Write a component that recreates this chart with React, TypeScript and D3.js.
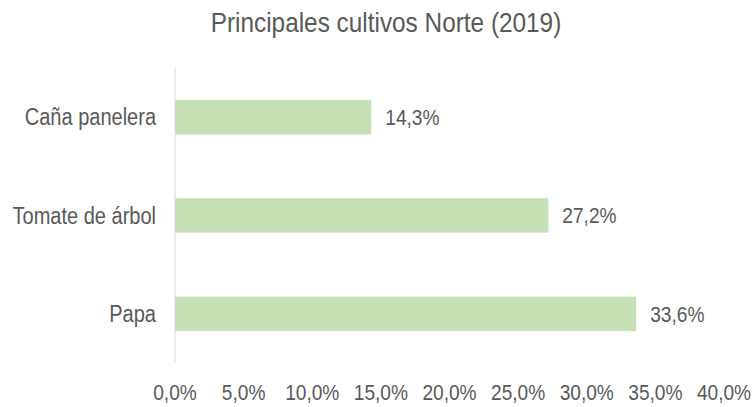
import React from "react";
import * as d3 from "d3";

const categories = ["Caña panelera", "Tomate de árbol", "Papa"];
const values = [14.3, 27.2, 33.6];
const xTicks = [0, 5, 10, 15, 20, 25, 30, 35, 40];
const title = "Principales cultivos Norte (2019)";

const W = 752;
const H = 407;
const FONT = "'Liberation Sans', Arial, sans-serif";
const TEXT = "#595959";
const SX = 0.87;

const fmt = (v: number) => v.toFixed(1).replace(".", ",") + "%";

function NText(props: { x: number; y: number; size: number; anchor?: string; dy?: string; children: React.ReactNode }) {
  return (
    <text
      transform={`translate(${props.x},${props.y}) scale(${SX},1)`}
      textAnchor={props.anchor || "start"}
      dy={props.dy}
      fontSize={props.size}
      fill={TEXT}
    >
      {props.children}
    </text>
  );
}

export default function App() {
  const x = d3.scaleLinear().domain([0, 40]).range([175, 724]);
  const y = d3.scaleBand<string>().domain(categories).range([68, 363]).paddingInner(0.65).paddingOuter(0.325);
  return (
    <svg width={W} height={H} style={{ position: "absolute", left: 0, top: 0 }} fontFamily={FONT}>
      <rect width={W} height={H} fill="#fff" />
      <NText x={386} y={32} size={28} anchor="middle">{title}</NText>
      {categories.map((c, i) => {
        const cy = y(c)! + y.bandwidth() / 2;
        return (
          <g key={c}>
            <rect x={x(0)} y={y(c)!} width={x(values[i]) - x(0)} height={y.bandwidth()} fill="#c5e0b4" />
            <NText x={156} y={cy} dy="0.35em" size={23} anchor="end">{c}</NText>
            <NText x={x(values[i]) + 14} y={cy} dy="0.35em" size={22}>{fmt(values[i])}</NText>
          </g>
        );
      })}
      <line x1={x(0)} x2={x(0)} y1={68} y2={363} stroke="#d9d9d9" strokeWidth={1} />
      {xTicks.map((t) => (
        <NText key={t} x={x(t)} y={400} size={22} anchor="middle">{fmt(t)}</NText>
      ))}
    </svg>
  );
}
